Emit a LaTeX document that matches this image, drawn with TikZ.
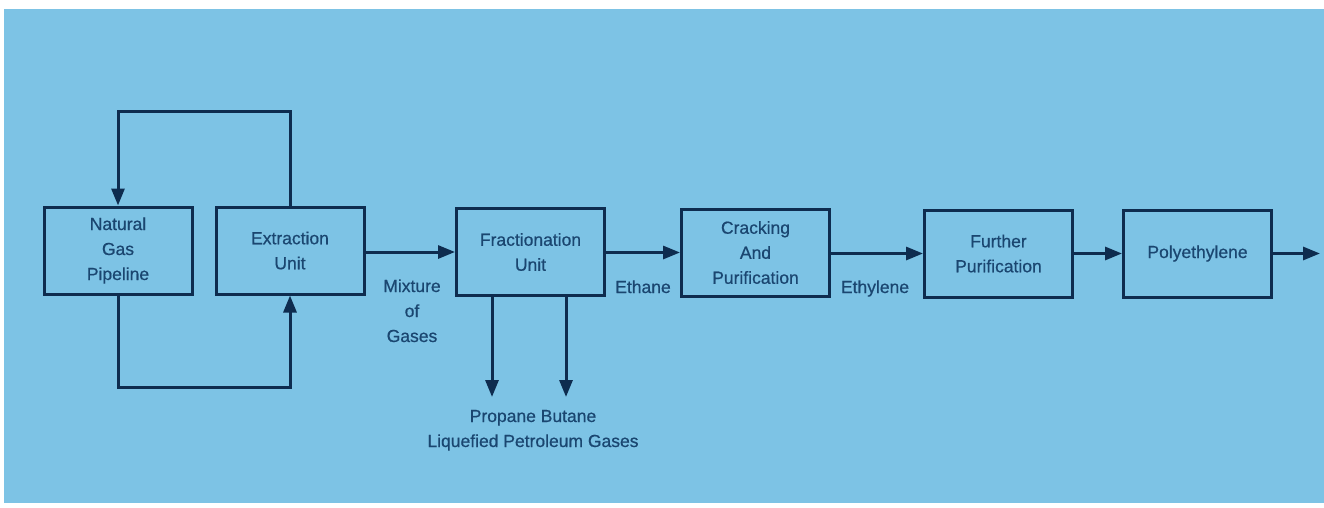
\documentclass[tikz,border=0pt]{standalone}
\usepackage{fontspec}
\setmainfont{Liberation Sans}[FakeBold=0.6]
\usetikzlibrary{arrows.meta}
\definecolor{bgblue}{HTML}{7DC3E5}
\definecolor{linecol}{HTML}{0E2C4F}
\definecolor{textcol}{HTML}{1A4670}
\tikzset{
  box/.style={draw=linecol, line width=3pt, minimum width=148pt, minimum height=87pt,
    inner sep=0pt, align=center, text=textcol, font=\fontsize{17.5}{25}\selectfont},
  lbl/.style={inner sep=0pt, align=center, text=textcol, font=\fontsize{17.5}{25}\selectfont, anchor=base},
  conn/.style={draw=linecol, line width=3pt},
  arr/.style={conn, -{Triangle[length=17pt,width=13pt]}}
}
\begin{document}
\begin{tikzpicture}[x=1pt,y=-1pt]
\useasboundingbox (0,0) rectangle (1324,508);
\fill[white] (0,0) rectangle (1324,508);
\fill[bgblue] (4,9) rectangle (1324,503);

\node[box] (ng) at (118,250.5) {Natural\\Gas\\Pipeline};
\node[box] (ex) at (290,250.5) {Extraction\\Unit};
\node[box] (fr) at (530.5,252) {Fractionation\\Unit};
\node[box] (cr) at (755.5,252.5) {Cracking\\And\\Purification};
\node[box] (fp) at (998.5,253.5) {Further\\Purification};
\node[box] (po) at (1197.5,253.5) {Polyethylene};

\coordinate (tl) at (118,112);
\coordinate (bl) at (118,387);
\coordinate (d1) at (492,397);
\coordinate (d2) at (566,397);
\coordinate (out) at (1320,253.5);

\draw[arr] (ex.north) |- (tl) -- (ng.north);
\draw[arr] (ng.south) -- (bl) -| (ex.south);
\draw[arr] (ex.east |- fr.west) -- (fr.west);
\draw[arr] (fr.east |- cr.west) -- (cr.west);
\draw[arr] (cr.east |- fp.west) -- (fp.west);
\draw[arr] (fp.east) -- (po.west);
\draw[arr] (po.east) -- (out);
\draw[arr] (d1 |- fr.south) -- (d1);
\draw[arr] (d2 |- fr.south) -- (d2);

\node[lbl] (mix) at (412,342) {Mixture\\of\\Gases};
\node[lbl] (eth) at (643,293) {Ethane};
\node[lbl] (ety) at (875,293) {Ethylene};
\node[lbl] (lpg) at (533,447) {Propane Butane\\Liquefied Petroleum Gases};
\end{tikzpicture}
\end{document}
